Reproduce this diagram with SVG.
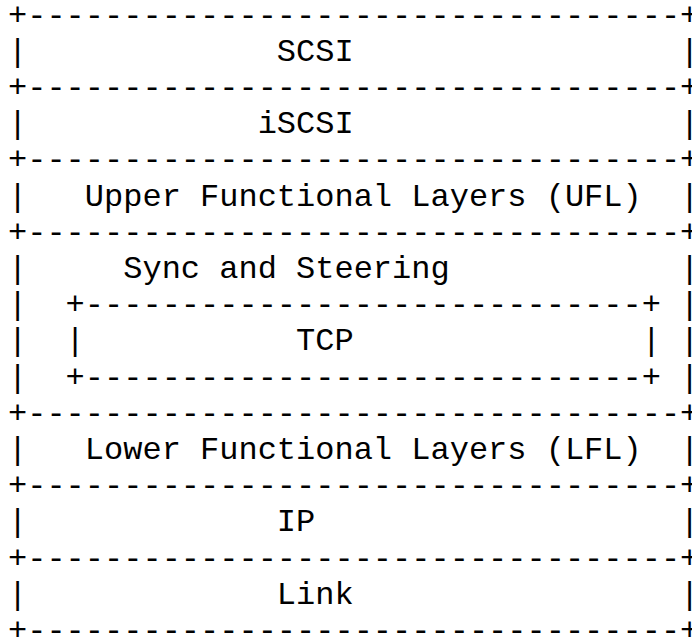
<svg xmlns="http://www.w3.org/2000/svg" width="692" height="637" viewBox="0 0 692 637">
<style>
text{font-family:"Liberation Mono","Courier New",monospace;font-size:32px;fill:#000;white-space:pre}
</style>
<rect width="692" height="637" fill="#fff"/>
<g id="frame" xml:space="preserve">
<text x="8" y="24.5">+----------------------------------+</text>
<text x="8" y="96.9">+----------------------------------+</text>
<text x="8" y="169.3">+----------------------------------+</text>
<text x="8" y="241.7">+----------------------------------+</text>
<text x="8" y="422.7">+----------------------------------+</text>
<text x="8" y="495.1">+----------------------------------+</text>
<text x="8" y="567.5">+----------------------------------+</text>
<text x="8" y="639.9">+----------------------------------+</text>
</g>
<g id="scsi" xml:space="preserve"><text x="8" y="60.7">|             SCSI                 |</text></g>
<g id="iscsi" xml:space="preserve"><text x="8" y="133.1">|            iSCSI                 |</text></g>
<g id="ufl" xml:space="preserve"><text x="8" y="205.5">|   Upper Functional Layers (UFL)  |</text></g>
<g id="sync" xml:space="preserve">
<text x="8" y="277.9">|     Sync and Steering            |</text>
<text x="8" y="314.1">|  +-----------------------------+ |</text>
<text x="8" y="386.5">|  +-----------------------------+ |</text>
</g>
<g id="tcp" xml:space="preserve"><text x="8" y="350.3">|  |           TCP               | |</text></g>
<g id="lfl" xml:space="preserve"><text x="8" y="458.9">|   Lower Functional Layers (LFL)  |</text></g>
<g id="ip" xml:space="preserve"><text x="8" y="531.3">|             IP                   |</text></g>
<g id="link" xml:space="preserve"><text x="8" y="603.7">|             Link                 |</text></g>
<g id="connectors"/>
</svg>
